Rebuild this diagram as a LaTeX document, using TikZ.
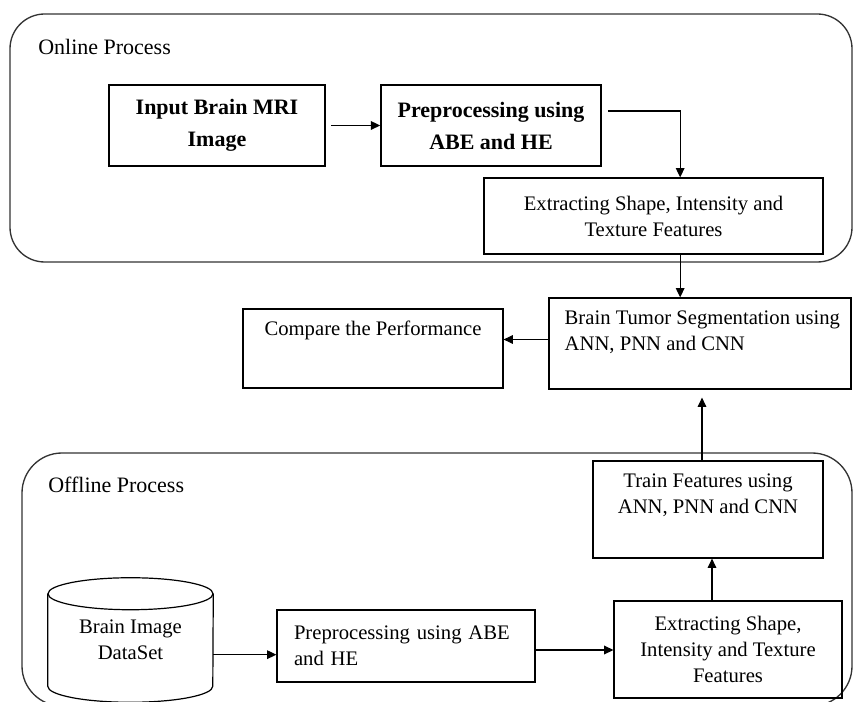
\documentclass[tikz,border=0pt]{standalone}
\usepackage{fontspec}
\setmainfont{Liberation Serif}
\usetikzlibrary{arrows.meta,positioning}

\begin{document}
\begin{tikzpicture}
[x=0.75pt,y=-0.75pt%
,every node/.style={font=\fontsize{15.5}{19.5}\selectfont}%
,group/.style={draw=black!80,line width=1pt}%
,grouptitle/.style={anchor=west,inner sep=0pt,font=\fontsize{16.5}{20}\selectfont}%
,box/.style={draw,line width=0.9pt,inner sep=0pt}%
,boldbox/.style={box,line width=1.3pt,align=center,%
	font=\fontsize{16.5}{24}\selectfont\bfseries}%
,boxtext/.style={inner sep=0pt,align=center}%
,arr/.style={-{Triangle[length=7pt,width=6.5pt]},line width=0.8pt}]
\useasboundingbox (0,0) rectangle (853,702);
\clip (0,0) rectangle (853,702);
% process frames
\draw[group,rounded corners=26pt] (10,14) rectangle (852,262);
\draw[group,rounded corners=30pt] (22,453) rectangle (852,706);
\node[grouptitle] (online) at (38,47) {Online Process};
\node[grouptitle] (offline) at (48,485) {Offline Process};
% online part
\node[boldbox,minimum width=162pt,minimum height=60.75pt] (in) at (217,125.5) {Input Brain MRI\\Image};
\node[boldbox,minimum width=165pt,minimum height=60.75pt] (pre) at (491,125.5) {Preprocessing using\\ABE and HE};
\node[box,align=center,minimum width=254.25pt,minimum height=57pt] (ext) at (653.5,216) {Extracting Shape, Intensity and\\Texture Features};
% middle
\node[box,minimum width=226.5pt,minimum height=68.25pt] (seg) at (700,343.5) {};
\node[boxtext,align=left,below right=10pt and 12pt of seg.north west] (segtext) {Brain Tumor Segmentation using\\ANN, PNN and CNN};
\node[box,minimum width=195pt,minimum height=59.25pt] (cmp) at (373,348.5) {};
\node[boxtext,below=9pt of cmp.north] (cmptext) {Compare the Performance};
% offline part
\node[minimum width=123.75pt,minimum height=69pt,inner sep=0pt,align=center] (db) at (130.5,640) {Brain Image\\DataSet};
\draw[box] (db.north west) -- (db.south west) arc[start angle=180,end angle=360,x radius=61.9pt,y radius=12pt] -- (db.north east);
\draw[box] (db.north) ellipse [x radius=61.9pt,y radius=12pt];
\node[box,align=left,inner xsep=12.75pt,text width=168pt,minimum height=54pt] (ppoff) at (406,646) {Preprocessing using ABE\\and HE};
\node[box,align=center,minimum width=171pt,minimum height=72.75pt] (extoff) at (728,649.5) {Extracting Shape,\\Intensity and Texture\\Features};
\node[box,minimum width=172.5pt,minimum height=72.75pt] (train) at (708,509.5) {};
\node[boxtext,below=10pt of train.north] (traintext) {Train Features using\\ANN, PNN and CNN};
% connectors
\draw[arr,line width=1.3pt,shorten <=4pt] (in) -- (pre);
\draw[arr] ([shift={(6,-14.5)}]pre.east) -| ([xshift=20pt]ext.north);
\draw[arr] ([xshift=20pt]ext.south) -- ([xshift=20pt]ext.south |- seg.north);
\draw[arr] ([yshift=3pt]seg.west) -- ([yshift=3pt]seg.west -| cmp.east);
\draw[arr,shorten >=6pt] ([xshift=-4.5pt]train.north) -- ([xshift=-4.5pt]train.north |- seg.south);
\draw[arr] ([xshift=-12pt]extoff.north) -- ([xshift=-12pt]extoff.north |- train.south);
\draw[arr] ([yshift=-11pt]db.east) -- ([yshift=-11pt]db.east -| ppoff.west);
\draw[arr,line width=1.1pt] ([yshift=-3pt]ppoff.east) -- ([yshift=-3pt]ppoff.east -| extoff.west);
\end{tikzpicture}
\end{document}
